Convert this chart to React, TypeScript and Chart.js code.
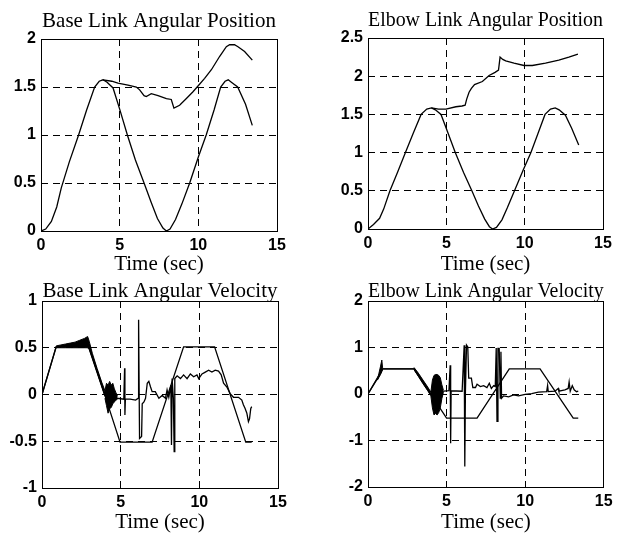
import React, { useEffect, useRef } from 'react';
import { Chart, registerables } from 'chart.js';

Chart.register(...registerables);

// ---------- DATA ----------
// Base link angular position (desired)
const basePosDesT = [0, 0.3, 0.66, 1.0, 1.29, 1.8, 2.39, 2.9, 3.41, 3.7, 3.94, 4.2, 4.58, 5.0, 5.49, 6.0, 6.55, 7.0, 7.4, 7.75, 7.97, 8.2, 8.55, 8.95, 9.45, 10.0, 10.5, 11.0, 11.42, 11.7, 11.9, 12.1, 12.5, 13.0, 13.43];
const basePosDes = [0, 0.02, 0.1, 0.25, 0.45, 0.72, 1.0, 1.26, 1.5, 1.56, 1.575, 1.55, 1.49, 1.27, 1.0, 0.74, 0.5, 0.3, 0.13, 0.03, 0.0, 0.02, 0.12, 0.28, 0.5, 0.77, 1.0, 1.26, 1.5, 1.56, 1.575, 1.55, 1.5, 1.32, 1.1];
// Base link angular position (actual)
const basePosActT = [3.94, 4.5, 4.89, 5.53, 6.06, 6.27, 6.55, 6.69, 7.01, 7.44, 7.97, 8.28, 8.45, 8.81, 9.24, 9.66, 9.98, 10.4, 10.83, 11.36, 11.78, 11.99, 12.3, 12.52, 12.94, 13.43];
const basePosAct = [1.575, 1.56, 1.54, 1.52, 1.5, 1.47, 1.41, 1.4, 1.43, 1.41, 1.38, 1.37, 1.28, 1.31, 1.38, 1.45, 1.51, 1.59, 1.68, 1.82, 1.92, 1.94, 1.94, 1.92, 1.87, 1.78];

// Elbow link angular position (desired)
const elbowPosDesT = [0, 0.35, 0.74, 1.0, 1.4, 1.9, 2.39, 2.9, 3.39, 3.75, 4.05, 4.3, 4.66, 5.1, 5.57, 6.1, 6.63, 7.05, 7.45, 7.75, 7.95, 8.2, 8.55, 8.9, 9.35, 9.9, 10.4, 10.85, 11.3, 11.65, 11.95, 12.2, 12.6, 13.0, 13.45];
const elbowPosDes = [0, 0.06, 0.14, 0.26, 0.5, 0.75, 1.0, 1.26, 1.5, 1.57, 1.585, 1.56, 1.5, 1.26, 1.0, 0.74, 0.5, 0.3, 0.13, 0.03, 0.0, 0.02, 0.12, 0.28, 0.5, 0.77, 1.0, 1.25, 1.5, 1.57, 1.585, 1.56, 1.49, 1.32, 1.1];
// Elbow link angular position (actual)
const elbowPosActT = [4.05, 4.5, 4.98, 5.61, 6.0, 6.2, 6.3, 6.45, 6.6, 6.8, 7.3, 7.73, 8.11, 8.33, 8.43, 8.6, 8.79, 9.32, 9.96, 10.49, 11.33, 12.18, 12.82, 13.4];
const elbowPosAct = [1.585, 1.57, 1.57, 1.6, 1.61, 1.62, 1.7, 1.79, 1.84, 1.89, 1.93, 2.01, 2.05, 2.08, 2.25, 2.22, 2.2, 2.17, 2.14, 2.14, 2.17, 2.21, 2.25, 2.29];

// Base link angular velocity (desired)
const baseVelDesT = [0, 0.9, 3.0, 4.96, 7.0, 9.0, 10.97, 12.95, 13.33];
const baseVelDes = [0, 0.51, 0.51, -0.51, -0.51, 0.51, 0.51, -0.51, -0.51];
// Base link angular velocity (actual)
const baseVelActT = [0, 0.9, 1.5, 2.2, 2.9, 3.0, 3.5, 4.0, 4.79, 5.2, 5.25, 5.27, 5.3, 5.6, 5.95, 6.12, 6.14, 6.2, 6.33, 6.37, 6.48, 6.58, 6.69, 6.79, 6.9, 7.0, 7.2, 7.43, 7.64, 7.85, 7.95, 8.06, 8.19, 8.23, 8.27, 8.35, 8.4, 8.44, 8.59, 8.8, 9.0, 9.22, 9.43, 9.64, 9.85, 9.96, 10.17, 10.38, 10.59, 10.8, 11.01, 11.22, 11.39, 11.54, 11.75, 11.96, 12.17, 12.49, 12.7, 12.8, 12.91, 13.02, 13.12, 13.19, 13.27, 13.33];
const baseVelAct = [0, 0.51, 0.52, 0.53, 0.55, 0.5, 0.25, 0.0, -0.04, -0.05, 0.28, -0.22, -0.05, -0.05, -0.06, -0.04, 0.8, -0.47, -0.45, -0.1, -0.08, -0.04, 0.12, 0.14, 0.08, 0.03, 0.03, -0.04, -0.01, -0.04, 0.05, -0.03, 0.1, -0.54, 0.17, -0.04, -0.61, 0.17, 0.2, 0.17, 0.21, 0.17, 0.22, 0.19, 0.21, 0.17, 0.22, 0.24, 0.26, 0.24, 0.26, 0.25, 0.21, 0.12, 0.08, 0.01, -0.03, -0.03, -0.06, -0.11, -0.15, -0.2, -0.29, -0.26, -0.15, -0.13];
// Base velocity oscillation envelopes
const baseVelBand1T = [0.9, 1.2, 1.5, 1.8, 2.1, 2.4, 2.7, 2.9, 3.0, 3.2, 3.5, 3.8, 4.0];
const baseVelBand1Hi = [0.52, 0.53, 0.54, 0.55, 0.56, 0.58, 0.6, 0.62, 0.57, 0.44, 0.28, 0.13, 0.04];
const baseVelBand1Lo = [0.5, 0.5, 0.5, 0.5, 0.5, 0.5, 0.5, 0.5, 0.48, 0.38, 0.23, 0.08, -0.02];
const baseVelBand2T = [4.0, 4.1, 4.2, 4.3, 4.4, 4.5, 4.6, 4.7, 4.8];
const baseVelBand2Hi = [0.04, 0.12, 0.1, 0.14, 0.1, 0.12, 0.06, 0.02, -0.02];
const baseVelBand2Lo = [-0.04, -0.12, -0.2, -0.15, -0.14, -0.1, -0.08, -0.06, -0.05];

// Elbow link angular velocity (desired)
const elbowVelDesT = [0, 0.93, 2.93, 5.0, 6.94, 8.99, 10.95, 13.06, 13.38];
const elbowVelDes = [0, 0.54, 0.54, -0.52, -0.52, 0.54, 0.54, -0.52, -0.52];
// Elbow link angular velocity (actual)
const elbowVelActT = [0, 0.6, 0.93, 2.93, 3.5, 4.0, 4.83, 5.15, 5.23, 5.26, 5.29, 5.99, 6.12, 6.16, 6.2, 6.27, 6.35, 6.41, 6.58, 6.67, 6.84, 6.94, 7.15, 7.36, 7.57, 7.72, 7.85, 8.0, 8.1, 8.16, 8.21, 8.27, 8.35, 8.42, 8.46, 8.5, 8.63, 8.95, 9.26, 9.58, 10.0, 10.42, 10.84, 11.37, 11.43, 11.47, 11.9, 12.11, 12.15, 12.53, 12.74, 12.8, 12.87, 13.0, 13.12, 13.27, 13.38];
const elbowVelAct = [0, 0.33, 0.54, 0.54, 0.26, 0.0, 0.06, 0.07, 0.62, -1.06, 0.07, 0.06, 1.05, -1.56, 0.05, 1.05, 1.01, 0.34, 0.34, 0.14, 0.14, 0.21, 0.16, 0.18, 0.14, 0.23, 0.12, 0.18, 0.16, 0.99, -0.59, 0.98, 0.98, -0.09, 0.91, -0.09, -0.04, -0.06, -0.02, -0.04, -0.01, 0.01, 0.04, 0.05, 0.18, 0.05, 0.06, 0.12, 0.06, 0.09, 0.12, 0.26, 0.06, 0.18, 0.09, 0.05, 0.06];
// Elbow velocity oscillation envelopes
const elbowVelBand1T = [0.6, 0.7, 0.8, 0.88, 0.93];
const elbowVelBand1Hi = [0.3, 0.45, 0.6, 0.73, 0.56];
const elbowVelBand1Lo = [0.3, 0.36, 0.42, 0.48, 0.54];
const elbowVelBand2T = [2.93, 3.2, 3.5, 3.8, 4.0];
const elbowVelBand2Hi = [0.57, 0.45, 0.3, 0.15, 0.04];
const elbowVelBand2Lo = [0.52, 0.38, 0.22, 0.07, -0.04];
const elbowVelBand3T = [4.0, 4.1, 4.2, 4.3, 4.4, 4.5, 4.6, 4.7, 4.8];
const elbowVelBand3Hi = [0.04, 0.3, 0.4, 0.42, 0.42, 0.4, 0.35, 0.2, 0.08];
const elbowVelBand3Lo = [-0.04, -0.3, -0.45, -0.42, -0.45, -0.4, -0.3, -0.1, 0.04];

// Axis ticks / labels
const timeTicks = { min: 0, max: 15, step: 5 };
const xLabel = 'Time (sec)';
const titles = [
  'Base Link Angular Position',
  'Elbow Link Angular Position',
  'Base Link Angular Velocity',
  'Elbow Link Angular Velocity',
];

// ---------- HELPERS ----------
const SERIF = '"Liberation Serif", "Times New Roman", Times, serif';
const SANS = '"Liberation Sans", Arial, Helvetica, sans-serif';

const xy = (t: number[], v: number[]) => t.map((x, i) => ({ x, y: v[i] }));

const line = (t: number[], v: number[], w = 1.3) => ({
  data: xy(t, v),
  borderColor: '#000',
  backgroundColor: '#000',
  borderWidth: w,
  pointRadius: 0,
  fill: false,
  tension: 0,
});
const bandLo = (t: number[], v: number[]) => ({ ...line(t, v, 1), fill: '-1' });

const align = (p: number) => Math.round(p - 0.5) + 0.5;

const boxPlugin = {
  id: 'axesBox',
  afterDraw(chart: any) {
    const { ctx, chartArea: a } = chart;
    const l = align(a.left), r = align(a.right), t = align(a.top), b = align(a.bottom);
    ctx.save();
    ctx.setLineDash([]);
    ctx.strokeStyle = '#000';
    ctx.lineWidth = 1;
    ctx.strokeRect(l, t, r - l, b - t);
    ctx.restore();
  },
};

type Spec = {
  left: number; top: number; w: number; h: number;
  yW: number; xH: number; padR: number;
  titleTop: number; titleBottom: number; xTitleBottom: number;
  yMin: number; yMax: number; yStep: number;
  title: string;
  datasets: any[];
};

const specs: Spec[] = [
  {
    left: 0, top: 0, w: 309, h: 282, yW: 41, xH: 51, padR: 32,
    titleTop: 12.8, titleBottom: 9.4, xTitleBottom: 9.2,
    yMin: 0, yMax: 2, yStep: 0.5, title: titles[0],
    datasets: [line(basePosDesT, basePosDes), line(basePosActT, basePosAct)],
  },
  {
    left: 309, top: 0, w: 309, h: 282, yW: 59, xH: 53, padR: 15,
    titleTop: 12.2, titleBottom: 9.0, xTitleBottom: 9.2,
    yMin: 0, yMax: 2.5, yStep: 0.5, title: titles[1],
    datasets: [line(elbowPosDesT, elbowPosDes), line(elbowPosActT, elbowPosAct)],
  },
  {
    left: 0, top: 272, w: 309, h: 268, yW: 42, xH: 52, padR: 31,
    titleTop: 11.5, titleBottom: 0.7, xTitleBottom: 9.4,
    yMin: -1, yMax: 1, yStep: 0.5, title: titles[2],
    datasets: [
      line(baseVelBand1T, baseVelBand1Hi, 1), bandLo(baseVelBand1T, baseVelBand1Lo),
      line(baseVelBand2T, baseVelBand2Hi, 1), bandLo(baseVelBand2T, baseVelBand2Lo),
      line(baseVelDesT, baseVelDes), line(baseVelActT, baseVelAct),
    ],
  },
  {
    left: 309, top: 272, w: 309, h: 268, yW: 59, xH: 53, padR: 14,
    titleTop: 11.0, titleBottom: 1.2, xTitleBottom: 9.4,
    yMin: -2, yMax: 2, yStep: 1, title: titles[3],
    datasets: [
      line(elbowVelBand1T, elbowVelBand1Hi, 1), bandLo(elbowVelBand1T, elbowVelBand1Lo),
      line(elbowVelBand2T, elbowVelBand2Hi, 1), bandLo(elbowVelBand2T, elbowVelBand2Lo),
      line(elbowVelBand3T, elbowVelBand3Hi, 1), bandLo(elbowVelBand3T, elbowVelBand3Lo),
      line(elbowVelDesT, elbowVelDes), line(elbowVelActT, elbowVelAct),
    ],
  },
];

const gridColor = (min: number, max: number) => (ctx: any) => {
  const v = ctx.tick ? ctx.tick.value : null;
  return v === min || v === max ? 'rgba(0,0,0,0)' : '#000';
};

const plainNumber = (v: any) => String(Math.round(Number(v) * 1000) / 1000);

function makeConfig(s: Spec): any {
  const tickFont = { family: SANS, size: 16, weight: 'bold' as const };
  const labelFont = { family: SERIF, size: 21, weight: 'normal' as const, lineHeight: 0.8 };
  return {
    type: 'line',
    data: { datasets: s.datasets },
    options: {
      animation: false,
      responsive: false,
      maintainAspectRatio: false,
      events: [],
      layout: { padding: { left: 0, top: 0, right: s.padR, bottom: 0 } },
      plugins: {
        legend: { display: false },
        tooltip: { enabled: false },
        title: {
          display: true,
          text: s.title,
          fullSize: false,
          color: '#000',
          font: labelFont,
          padding: { top: s.titleTop, bottom: s.titleBottom },
        },
      },
      scales: {
        x: {
          type: 'linear',
          min: timeTicks.min,
          max: timeTicks.max,
          afterFit: (sc: any) => { sc.height = s.xH; },
          ticks: {
            stepSize: timeTicks.step, color: '#000', font: tickFont,
            padding: 5.4, maxRotation: 0, autoSkip: false, callback: plainNumber,
          },
          grid: { drawTicks: false, color: gridColor(timeTicks.min, timeTicks.max), lineWidth: 1 },
          border: { display: false, dash: [7, 5] },
          title: {
            display: true, text: xLabel, color: '#000', font: labelFont,
            padding: { top: 0, bottom: s.xTitleBottom },
          },
        },
        y: {
          type: 'linear',
          min: s.yMin,
          max: s.yMax,
          afterFit: (sc: any) => { sc.width = s.yW; },
          ticks: { stepSize: s.yStep, color: '#000', font: tickFont, padding: 5, callback: plainNumber },
          grid: { drawTicks: false, color: gridColor(s.yMin, s.yMax), lineWidth: 1 },
          border: { display: false, dash: [7, 5] },
        },
      },
    },
    plugins: [boxPlugin],
  };
}

function Panel({ spec }: { spec: Spec }) {
  const ref = useRef<HTMLCanvasElement>(null);
  useEffect(() => {
    if (!ref.current) return;
    const chart = new Chart(ref.current, makeConfig(spec));
    return () => chart.destroy();
  }, [spec]);
  return (
    <canvas
      ref={ref}
      width={spec.w}
      height={spec.h}
      style={{ position: 'absolute', left: spec.left, top: spec.top, width: spec.w, height: spec.h }}
    />
  );
}

export default function App() {
  return (
    <div style={{ position: 'absolute', left: 0, top: 0, width: 618, height: 540, background: '#fff' }}>
      {specs.map((s, i) => (
        <Panel key={i} spec={s} />
      ))}
    </div>
  );
}
